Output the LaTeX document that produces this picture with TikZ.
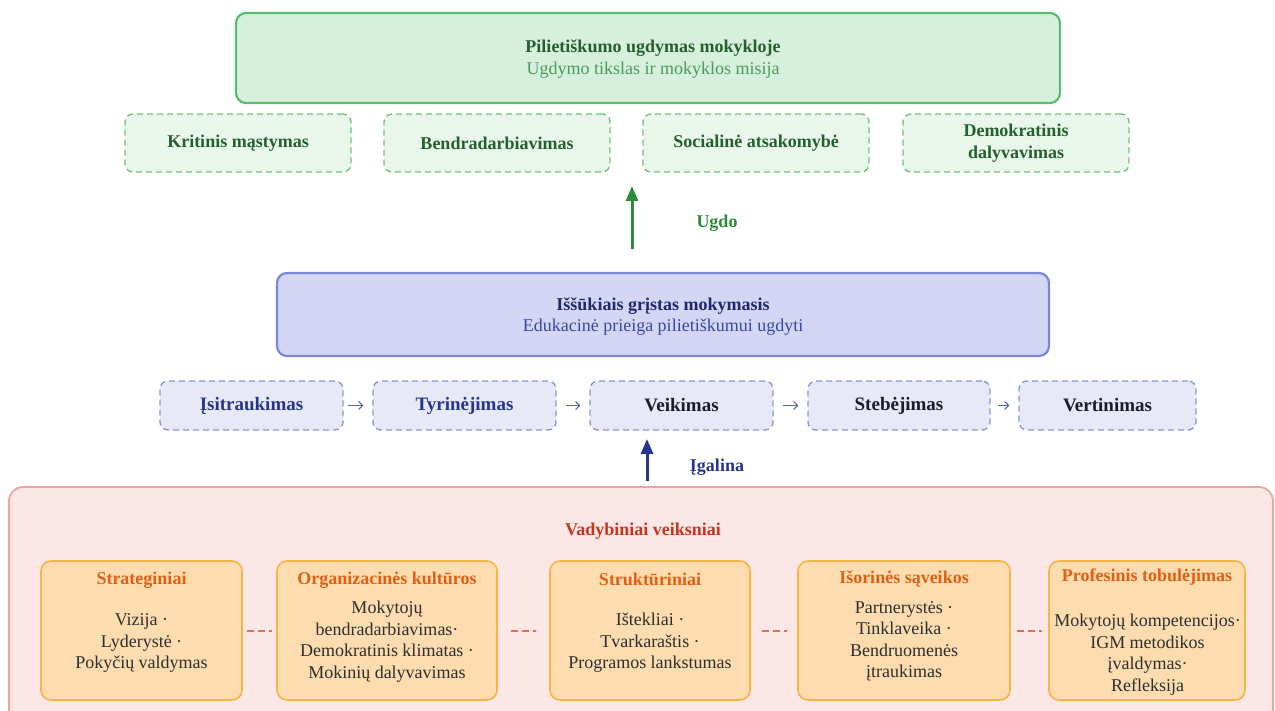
\documentclass[tikz,border=0pt]{standalone}
\usepackage{fontspec}
\setmainfont{Liberation Serif}
\usetikzlibrary{arrows.meta,calc}
\definecolor{gbord}{HTML}{5DBB6A}
\definecolor{gfill}{HTML}{D6F0DD}
\definecolor{gtitle}{HTML}{24602C}
\definecolor{gsub}{HTML}{4C9A58}
\definecolor{cbord}{HTML}{72C27C}
\definecolor{cfill}{HTML}{E9F6EB}
\definecolor{garrow}{HTML}{2E8B3A}
\definecolor{bbord}{HTML}{7C86D8}
\definecolor{bfill}{HTML}{D3D7F3}
\definecolor{btitle}{HTML}{1E2870}
\definecolor{bsub}{HTML}{3848A8}
\definecolor{pbord}{HTML}{8E95D2}
\definecolor{pfill}{HTML}{E7E9F7}
\definecolor{pnavy}{HTML}{27358E}
\definecolor{pdark}{HTML}{1C1C2C}
\definecolor{parrow}{HTML}{5565B5}
\definecolor{rbord}{HTML}{EFA59D}
\definecolor{rfill}{HTML}{FBE7E6}
\definecolor{rtitle}{HTML}{C8361E}
\definecolor{obord}{HTML}{F6B449}
\definecolor{ofill}{HTML}{FDDDB0}
\definecolor{ohead}{HTML}{E25F16}
\definecolor{otext}{HTML}{2E2E2E}
\definecolor{olink}{HTML}{E86A50}
\tikzset{
  bigbox/.style={draw, rounded corners=10pt, line width=2.2pt, inner sep=0pt},
  titletext/.style={font=\fontsize{18}{22}\selectfont\bfseries},
  subtext/.style={font=\fontsize{18}{22}\selectfont},
  compbox/.style={draw=cbord, fill=cfill, dash pattern=on 6pt off 4pt, line width=1.4pt, rounded corners=8pt,
    minimum width=226pt, minimum height=58pt, align=center, text=gtitle, font=\fontsize{18}{22}\selectfont\bfseries},
  procbox/.style={draw=pbord, fill=pfill, dash pattern=on 6pt off 4pt, line width=1.4pt, rounded corners=8pt,
    minimum height=49pt, align=center, font=\fontsize{19}{22}\selectfont\bfseries},
  procarrow/.style={-{Straight Barb[length=4pt,width=8pt]}, draw=parrow, line width=1pt},
  orbox/.style={draw=obord, fill=ofill, line width=1.6pt, rounded corners=10pt, minimum height=139pt, inner sep=0pt},
  orhead/.style={text=ohead, font=\fontsize{18}{22}\selectfont\bfseries},
  orbody/.style={text=otext, align=center, font=\fontsize{18}{21.5}\selectfont},
  orlink/.style={draw=olink, line width=2pt, dash pattern=on 7pt off 4pt},
  lbl/.style={font=\fontsize{18}{22}\selectfont\bfseries},
}
\begin{document}
\begin{tikzpicture}[x=1pt,y=-1pt]
\useasboundingbox (0,0) rectangle (1275,711);
% top
\node[bigbox, draw=gbord, fill=gfill, minimum width=824pt, minimum height=90pt] (top) at (648,58) {};
\node[titletext, text=gtitle] (topt) at (653,48) {Pilietiškumo ugdymas mokykloje};
\node[subtext, text=gsub] (tops) at (653,70) {Ugdymo tikslas ir mokyklos misija};
\node[compbox] (c1) at (238,143) {Kritinis mąstymas};
\node[compbox] (c2) at (497,143) {Bendradarbiavimas};
\node[compbox] (c3) at (756,143) {\raisebox{3pt}{Socialinė atsakomybė}};
\node[compbox] (c4) at (1016,143) {Demokratinis\\dalyvavimas};
% middle
\node[bigbox, draw=bbord, fill=bfill, minimum width=772pt, minimum height=83pt] (mid) at (663,314.5) {};
\node[titletext, text=btitle] (midt) at (663,306) {Iššūkiais grįstas mokymasis};
\node[subtext, text=bsub] (mids) at (663,327) {Edukacinė prieiga pilietiškumui ugdyti};
\coordinate (ga1) at (632,249);
\coordinate (ga2) at (632,186);
\draw[-{Triangle[length=15pt,width=12pt]}, draw=garrow, fill=garrow, line width=3pt] (ga1) -- (ga2);
\node[lbl, text=garrow] (ugdo) at (717,223) {Ugdo};
% process
\node[procbox, minimum width=183pt, text=pnavy] (p1) at (251.5,405.5) {Įsitraukimas};
\node[procbox, minimum width=183pt, text=pnavy] (p2) at (464.5,405.5) {Tyrinėjimas};
\node[procbox, minimum width=183pt, text=pdark] (p3) at (681.5,405.5) {Veikimas};
\node[procbox, minimum width=182pt, text=pdark] (p4) at (899,405.5) {Stebėjimas};
\node[procbox, minimum width=177pt, text=pdark] (p5) at (1107.5,405.5) {Vertinimas};
\draw[procarrow, shorten <=4pt, shorten >=9pt] (p1.east) -- (p2.west);
\draw[procarrow, shorten <=9pt, shorten >=9pt] (p2.east) -- (p3.west);
\draw[procarrow, shorten <=9pt, shorten >=9pt] (p3.east) -- (p4.west);
\draw[procarrow, shorten <=7pt, shorten >=9pt] (p4.east) -- (p5.west);
\coordinate (ba1) at (647,481);
\coordinate (ba2) at (647,439);
\draw[-{Triangle[length=15pt,width=12pt]}, draw=pnavy, fill=pnavy, line width=3pt] (ba1) -- (ba2);
\node[lbl, text=pnavy] (igalina) at (717,467) {Įgalina};
% bottom
\draw[draw=rbord, fill=rfill, line width=1.8pt, rounded corners=14pt] (9,487) rectangle (1273,740);
\node[lbl, text=rtitle] (vad) at (643,531) {Vadybiniai veiksniai};
\node[orbox, minimum width=201pt] (o1) at (141.5,630.5) {};
\node[orbox, minimum width=220pt] (o2) at (387,630.5) {};
\node[orbox, minimum width=200pt] (o3) at (650,630.5) {};
\node[orbox, minimum width=212pt] (o4) at (904,630.5) {};
\node[orbox, minimum width=196pt] (o5) at (1147,630.5) {};
\node[orhead] (h1) at (141.5,580) {Strateginiai};
\node[orhead] (h2) at (387,580) {Organizacinės kultūros};
\node[orhead] (h3) at (650,579) {Struktūriniai};
\node[orhead] (h4) at (904,579) {Išorinės sąveikos};
\node[orhead] (h5) at (1147,577) {Profesinis tobulėjimas};
\node[orbody] (b1) at (141.5,643) {Vizija ·\\Lyderystė ·\\Pokyčių valdymas};
\node[orbody] (b2) at (387,641.5) {Mokytojų\\bendradarbiavimas·\\Demokratinis klimatas ·\\Mokinių dalyvavimas};
\node[orbody] (b3) at (650,643) {Ištekliai ·\\Tvarkaraštis ·\\Programos lankstumas};
\node[orbody] (b4) at (904,641.5) {Partnerystės ·\\Tinklaveika ·\\Bendruomenės\\įtraukimas};
\node[orbody] (b5) at (1147.5,654.5) {Mokytojų kompetencijos·\\IGM metodikos\\įvaldymas·\\Refleksija};
\draw[orlink] ($(o1.east)!0.5!(o2.west)+(-12.5,0)$) -- ($(o1.east)!0.5!(o2.west)+(12.5,0)$);
\draw[orlink] ($(o2.east)!0.5!(o3.west)+(-12.5,0)$) -- ($(o2.east)!0.5!(o3.west)+(12.5,0)$);
\draw[orlink] ($(o3.east)!0.5!(o4.west)+(-12.5,0)$) -- ($(o3.east)!0.5!(o4.west)+(12.5,0)$);
\draw[orlink] ($(o4.east)!0.5!(o5.west)+(-12.5,0)$) -- ($(o4.east)!0.5!(o5.west)+(12.5,0)$);
\end{tikzpicture}
\end{document}
